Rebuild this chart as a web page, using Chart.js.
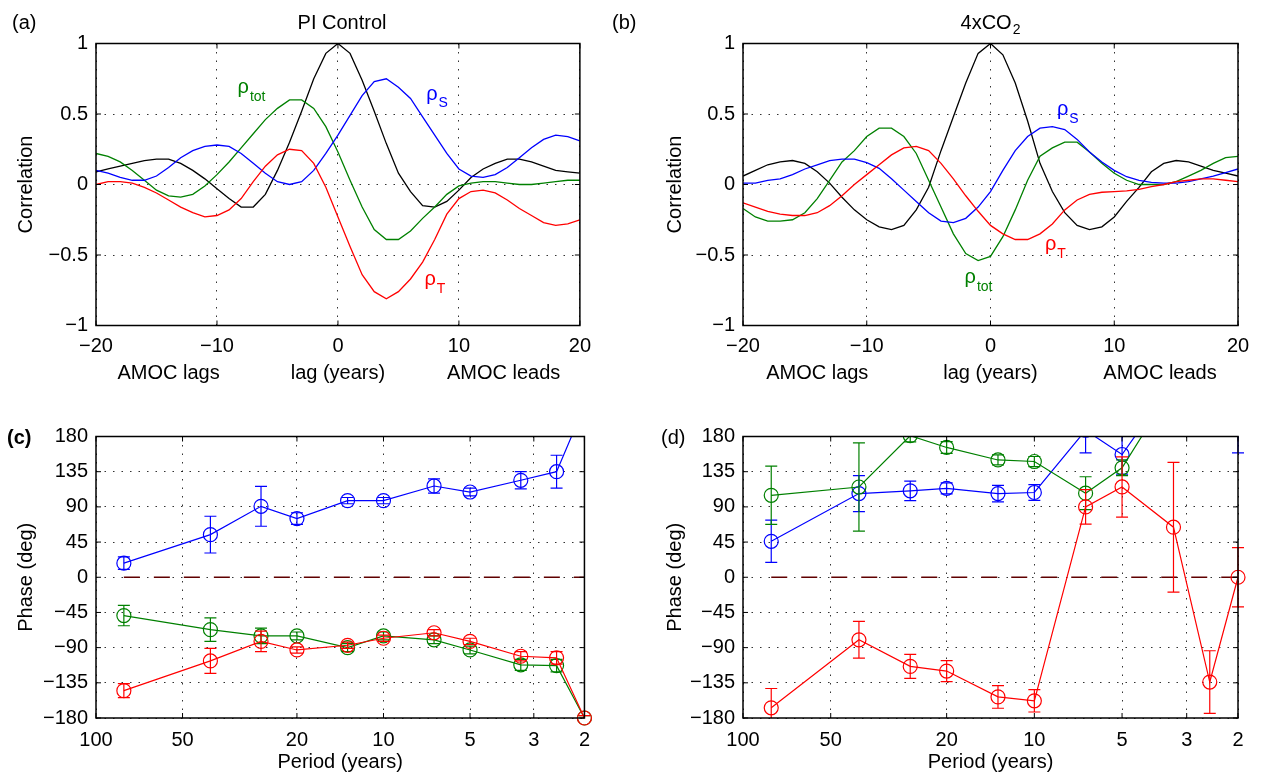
<!DOCTYPE html>
<html lang="en">
<head>
<meta charset="UTF-8">
<title>AMOC correlation and phase</title>
<script src="https://cdn.jsdelivr.net/npm/chart.js"></script>
<style>
  body { margin: 0; background: #fff; }
  #wrap { position: relative; width: 1261px; height: 778px; }
  canvas { position: absolute; }
</style>
</head>
<body>
<div id="wrap">
  <canvas id="chartA" width="600" height="400" style="left:0;top:0"></canvas>
  <canvas id="chartB" width="661" height="400" style="left:600px;top:0"></canvas>
  <canvas id="chartC" width="600" height="378" style="left:0;top:400px"></canvas>
  <canvas id="chartD" width="661" height="378" style="left:600px;top:400px"></canvas>
</div>
<script>
// lag axis (years) for the correlation panels
const lags = [-20, -19, -18, -17, -16, -15, -14, -13, -12, -11, -10, -9, -8, -7, -6, -5, -4, -3, -2, -1,
              0, 1, 2, 3, 4, 5, 6, 7, 8, 9, 10, 11, 12, 13, 14, 15, 16, 17, 18, 19, 20];

// (a) PI Control
const piAmoc = [0.09, 0.11, 0.13, 0.15, 0.17, 0.18, 0.18, 0.15, 0.10, 0.04, -0.03, -0.10, -0.16, -0.16, -0.07, 0.10, 0.30, 0.52, 0.75, 0.93,
                1.0, 0.93, 0.74, 0.52, 0.29, 0.08, -0.05, -0.15, -0.16, -0.12, -0.04, 0.05, 0.11, 0.15, 0.18, 0.18, 0.16, 0.13, 0.10, 0.09, 0.08];
const piTot = [0.22, 0.20, 0.16, 0.10, 0.03, -0.04, -0.08, -0.09, -0.07, -0.01, 0.07, 0.16, 0.26, 0.36, 0.46, 0.54, 0.60, 0.60, 0.54, 0.41,
               0.23, 0.03, -0.16, -0.32, -0.39, -0.39, -0.33, -0.24, -0.16, -0.07, -0.01, 0.01, 0.02, 0.02, 0.01, 0.00, 0.00, 0.01, 0.02, 0.03, 0.03];
const piS = [0.10, 0.08, 0.05, 0.03, 0.03, 0.06, 0.12, 0.19, 0.24, 0.27, 0.28, 0.27, 0.22, 0.15, 0.08, 0.02, 0.00, 0.02, 0.10, 0.22,
             0.35, 0.49, 0.63, 0.73, 0.75, 0.69, 0.61, 0.48, 0.35, 0.22, 0.11, 0.06, 0.05, 0.07, 0.12, 0.19, 0.26, 0.32, 0.35, 0.34, 0.31];
const piT = [0.00, 0.02, 0.02, 0.01, -0.02, -0.06, -0.11, -0.16, -0.20, -0.23, -0.22, -0.18, -0.10, 0.02, 0.13, 0.21, 0.25, 0.24, 0.15, -0.02,
             -0.23, -0.44, -0.64, -0.76, -0.81, -0.76, -0.67, -0.55, -0.39, -0.21, -0.10, -0.05, -0.04, -0.06, -0.11, -0.17, -0.22, -0.27, -0.29, -0.28, -0.25];

// (b) 4xCO2
const co2Amoc = [0.06, 0.10, 0.14, 0.16, 0.17, 0.15, 0.09, 0.01, -0.09, -0.18, -0.25, -0.30, -0.32, -0.29, -0.18, -0.02, 0.24, 0.48, 0.72, 0.93,
                 1.0, 0.92, 0.72, 0.45, 0.15, -0.05, -0.20, -0.29, -0.32, -0.30, -0.23, -0.12, -0.02, 0.09, 0.15, 0.17, 0.16, 0.13, 0.10, 0.08, 0.06];
const co2Tot = [-0.17, -0.23, -0.26, -0.26, -0.25, -0.20, -0.10, 0.03, 0.16, 0.24, 0.34, 0.40, 0.40, 0.34, 0.22, 0.03, -0.16, -0.35, -0.49, -0.54,
                -0.51, -0.37, -0.18, 0.03, 0.20, 0.26, 0.30, 0.30, 0.23, 0.15, 0.08, 0.03, 0.00, 0.00, 0.00, 0.02, 0.06, 0.10, 0.15, 0.19, 0.20];
const co2S = [0.01, 0.01, 0.03, 0.04, 0.07, 0.11, 0.14, 0.17, 0.18, 0.18, 0.155, 0.115, 0.04, -0.04, -0.12, -0.20, -0.26, -0.27, -0.24, -0.16,
              -0.05, 0.10, 0.24, 0.34, 0.40, 0.41, 0.39, 0.32, 0.23, 0.16, 0.10, 0.055, 0.03, 0.015, 0.01, 0.01, 0.02, 0.04, 0.06, 0.085, 0.11];
const co2T = [-0.13, -0.16, -0.19, -0.21, -0.22, -0.22, -0.20, -0.15, -0.08, 0.00, 0.07, 0.14, 0.21, 0.26, 0.27, 0.24, 0.15, 0.04, -0.08, -0.19,
              -0.29, -0.35, -0.39, -0.39, -0.35, -0.28, -0.18, -0.11, -0.07, -0.055, -0.05, -0.045, -0.035, -0.015, 0.00, 0.02, 0.03, 0.04, 0.04, 0.03, 0.02];

// (c), (d) phase against period
const periods = [80, 40, 26.67, 20, 13.33, 10, 6.67, 5, 3.33, 2.5, 2];
const periodTicks = [100, 50, 20, 10, 5, 3, 2];

const piPhaseS = [18, 54.5, 90.7, 75, 98, 98, 116.7, 109, 124, 135, 219];
const piErrS = [8, 23.5, 25.5, 7.5, 4, 4, 9, 5, 11, 21, 20];
const piPhaseTot = [-49, -67, -75, -75, -90, -75, -80, -93, -112, -113, -180];
const piErrTot = [13, 15, 10, 5, 5, 5, 5, 5, 7, 8, 3];
const piPhaseT = [-145, -107, -82, -93, -87, -78, -71, -82, -101, -103, -180];
const piErrT = [9, 16, 13, 4, 4, 4, 4, 4, 6, 8, 3];

const co2PhaseS = [46, 107, 110.5, 113.7, 107, 108.4, 188, 157, 250, 240, 195];
const co2ErrS = [27, 23, 12.4, 7, 10.5, 10, 29, 25, 20, 20, 36];
const co2PhaseTot = [104.8, 115.4, 181, 166, 150, 148, 107.5, 140, 245, 235, 225];
const co2ErrTot = [37.3, 56.5, 8, 7.5, 6.4, 6.4, 21, 10, 10, 10, 10];
const co2PhaseT = [-167, -80, -114, -120, -153, -158, 90, 115.5, 64, -134, 0];
const co2ErrT = [24.7, 23.5, 15.4, 13.4, 14.5, 14.3, 22, 38.5, 83, 40, 38];

const FAM = '"Liberation Sans", Arial, Helvetica, sans-serif';
Chart.defaults.font.family = FAM;
Chart.defaults.font.size = 20;
Chart.defaults.color = '#000';

const BLUE = '#0000ff', GREEN = '#008000', RED = '#ff0000', BLACK = '#000000';
const GRID = 'rgba(0,0,0,0.8)';

function minusFmt(v) {
  return v < 0 ? '\u2212' + Math.abs(v) : String(v);
}

// texts placed per canvas (pixel or data coords)
const labelSets = {
  chartA: [
    { text: '(a)', px: 12, py: 29 },
    { text: 'PI Control', px: 342, py: 29, align: 'center' },
    { text: 'AMOC lags', lag: -14, py: 379, align: 'center' },
    { text: 'AMOC leads', lag: 13.7, py: 379, align: 'center' },
    { text: '\u03c1', sub: 'tot', lag: -8.3, val: 0.647, color: GREEN },
    { text: '\u03c1', sub: 'S', lag: 7.3, val: 0.60, color: BLUE },
    { text: '\u03c1', sub: 'T', lag: 7.15, val: -0.713, color: RED }
  ],
  chartB: [
    { text: '(b)', px: 12, py: 29 },
    { text: '4xCO', sub: '2', px: 390.5, py: 29, align: 'center', subDrop: 5 },
    { text: 'AMOC lags', lag: -14, py: 379, align: 'center' },
    { text: 'AMOC leads', lag: 13.7, py: 379, align: 'center' },
    { text: '\u03c1', sub: 'S', lag: 5.37, val: 0.49, color: BLUE },
    { text: '\u03c1', sub: 'T', lag: 4.4, val: -0.465, color: RED },
    { text: '\u03c1', sub: 'tot', lag: -2.1, val: -0.70, color: GREEN }
  ],
  chartC: [
    { text: '(c)', px: 7, py: 44, bold: true }
  ],
  chartD: [
    { text: '(d)', px: 61, py: 44 }
  ]
};

const panelText = {
  id: 'panelText',
  afterDraw(chart) {
    const items = labelSets[chart.canvas.id] || [];
    const ctx = chart.ctx;
    const xs = chart.scales.x, ys = chart.scales.y;
    items.forEach(it => {
      const px = it.lag !== undefined ? xs.getPixelForValue(it.lag) : it.px;
      const py = it.val !== undefined ? ys.getPixelForValue(it.val) : it.py;
      const f = (it.bold ? 'bold ' : '') + (it.size || 20) + 'px ' + FAM;
      const fs = (it.subSize || 14) + 'px ' + FAM;
      ctx.save();
      ctx.fillStyle = it.color || '#000';
      ctx.textBaseline = 'alphabetic';
      ctx.textAlign = 'left';
      ctx.font = f;
      const w1 = ctx.measureText(it.text).width;
      ctx.font = fs;
      const w2 = it.sub ? ctx.measureText(it.sub).width + 1 : 0;
      const x0 = it.align === 'center' ? px - (w1 + w2) / 2 : px;
      ctx.font = f;
      ctx.fillText(it.text, x0, py);
      if (it.sub) {
        ctx.font = fs;
        ctx.fillText(it.sub, x0 + w1 + 1, py + (it.subDrop || 7.5));
      }
      ctx.restore();
    });
  }
};

// box round the axes plus inward tick marks on all four sides
const frame = {
  id: 'frame',
  afterDraw(chart) {
    const { ctx, chartArea: a } = chart;
    const xs = chart.scales.x, ys = chart.scales.y;
    ctx.save();
    ctx.strokeStyle = '#000';
    ctx.lineWidth = 1;
    ctx.beginPath();
    xs.ticks.forEach(t => {
      const p = xs.getPixelForValue(t.value);
      ctx.moveTo(p, a.bottom); ctx.lineTo(p, a.bottom - 5);
      ctx.moveTo(p, a.top); ctx.lineTo(p, a.top + 5);
    });
    ys.ticks.forEach(t => {
      const p = ys.getPixelForValue(t.value);
      ctx.moveTo(a.left, p); ctx.lineTo(a.left + 5, p);
      ctx.moveTo(a.right, p); ctx.lineTo(a.right - 5, p);
    });
    ctx.stroke();
    ctx.lineWidth = 1.5;
    ctx.strokeRect(a.left, a.top, a.right - a.left, a.bottom - a.top);
    ctx.restore();
  }
};

// vertical error bars with caps, drawn right after their own dataset
const errorBars = {
  id: 'errorBars',
  afterDatasetDraw(chart, args) {
    const ds = chart.data.datasets[args.index];
    if (!ds.errors) return;
    const { ctx, chartArea: a } = chart;
    const xs = chart.scales.x, ys = chart.scales.y;
    ctx.save();
    ctx.beginPath();
    ctx.rect(a.left, a.top, a.right - a.left + 8, a.bottom - a.top);
    ctx.clip();
    ctx.strokeStyle = ds.borderColor;
    ctx.lineWidth = 1.2;
    ctx.beginPath();
    ds.data.forEach((p, i) => {
      const x = xs.getPixelForValue(p.x);
      const lo = ys.getPixelForValue(p.y - ds.errors[i]);
      const hi = ys.getPixelForValue(p.y + ds.errors[i]);
      ctx.moveTo(x, lo); ctx.lineTo(x, hi);
      ctx.moveTo(x - 6, lo); ctx.lineTo(x + 6, lo);
      ctx.moveTo(x - 6, hi); ctx.lineTo(x + 6, hi);
    });
    ctx.stroke();
    ctx.restore();
  }
};

function corrLine(vals, color) {
  return {
    data: lags.map((l, i) => ({ x: l, y: vals[i] })),
    borderColor: color, borderWidth: 1.3, pointRadius: 0, tension: 0, fill: false
  };
}

function phaseLine(vals, errs, color) {
  return {
    data: periods.map((p, i) => ({ x: p, y: vals[i] })),
    errors: errs,
    borderColor: color, borderWidth: 1.2, tension: 0, fill: false,
    pointRadius: 7, pointHoverRadius: 7, pointStyle: 'circle',
    pointBorderColor: color, pointBackgroundColor: 'rgba(0,0,0,0)', pointBorderWidth: 1.2,
    clip: { left: 0, top: 0, right: 8, bottom: 8 }
  };
}

function corrChart(id, sets, yWidth, padRight, yTitlePad) {
  return new Chart(document.getElementById(id), {
    type: 'line',
    data: { datasets: sets },
    options: {
      responsive: false, animation: false, devicePixelRatio: 1,
      layout: { padding: { top: 43.5, right: padRight, bottom: 0, left: 0 } },
      plugins: { legend: { display: false }, tooltip: { enabled: false } },
      scales: {
        x: {
          type: 'linear', min: -20, max: 20,
          ticks: { stepSize: 10, padding: 9, maxRotation: 0, callback: minusFmt },
          grid: { color: GRID, lineWidth: 1, drawTicks: false },
          border: { display: false, dash: [1.5, 7] },
          title: { display: true, text: 'lag (years)', padding: { top: 0, bottom: 15 } },
          afterFit: s => { s.height = 74.5; }
        },
        y: {
          min: -1, max: 1,
          ticks: { stepSize: 0.5, padding: 8, callback: minusFmt },
          grid: { color: GRID, lineWidth: 1, drawTicks: false },
          border: { display: false, dash: [1.5, 7] },
          title: { display: true, text: 'Correlation', padding: { top: yTitlePad, bottom: 0 } },
          afterFit: s => { s.width = yWidth; }
        }
      }
    },
    plugins: [panelText, frame]
  });
}

function phaseChart(id, sets, yWidth, padRight, yTitlePad) {
  return new Chart(document.getElementById(id), {
    type: 'line',
    data: { datasets: sets },
    options: {
      responsive: false, animation: false, devicePixelRatio: 1,
      layout: { padding: { top: 36.5, right: padRight, bottom: 0, left: 0 } },
      plugins: { legend: { display: false }, tooltip: { enabled: false } },
      scales: {
        x: {
          type: 'logarithmic', min: 2, max: 100, reverse: true,
          afterBuildTicks: s => { s.ticks = periodTicks.map(v => ({ value: v })); },
          ticks: { padding: 10, maxRotation: 0, autoSkip: false, callback: v => String(v) },
          grid: { color: GRID, lineWidth: 1, drawTicks: false },
          border: { display: false, dash: [1.5, 7] },
          title: { display: true, text: 'Period (years)', padding: { top: 0, bottom: 4 } },
          afterFit: s => { s.height = 60; }
        },
        y: {
          min: -180, max: 180,
          ticks: { stepSize: 45, padding: 8, callback: minusFmt },
          grid: { color: GRID, lineWidth: 1, drawTicks: false },
          border: { display: false, dash: [1.5, 7] },
          title: { display: true, text: 'Phase (deg)', padding: { top: yTitlePad, bottom: 0 } },
          afterFit: s => { s.width = yWidth; }
        }
      }
    },
    plugins: [panelText, frame, errorBars]
  });
}

function zeroLine() {
  return {
    data: [{ x: periods[0], y: 0 }, { x: periods[periods.length - 1], y: 0 }],
    borderColor: '#600000', borderWidth: 1.6, borderDash: [16, 14], pointRadius: 0, tension: 0
  };
}

corrChart('chartA', [corrLine(piT, RED), corrLine(piS, BLUE), corrLine(piTot, GREEN), corrLine(piAmoc, BLACK)], 96, 12, 14);
corrChart('chartB', [corrLine(co2T, RED), corrLine(co2S, BLUE), corrLine(co2Tot, GREEN), corrLine(co2Amoc, BLACK)], 143, 23, 63);

phaseChart('chartC', [
  phaseLine(piPhaseT, piErrT, RED),
  phaseLine(piPhaseTot, piErrTot, GREEN),
  phaseLine(piPhaseS, piErrS, BLUE),
  zeroLine()
], 96, 12, 14);

phaseChart('chartD', [
  phaseLine(co2PhaseT, co2ErrT, RED),
  phaseLine(co2PhaseTot, co2ErrTot, GREEN),
  phaseLine(co2PhaseS, co2ErrS, BLUE),
  zeroLine()
], 143, 23, 63);
</script>
</body>
</html>
